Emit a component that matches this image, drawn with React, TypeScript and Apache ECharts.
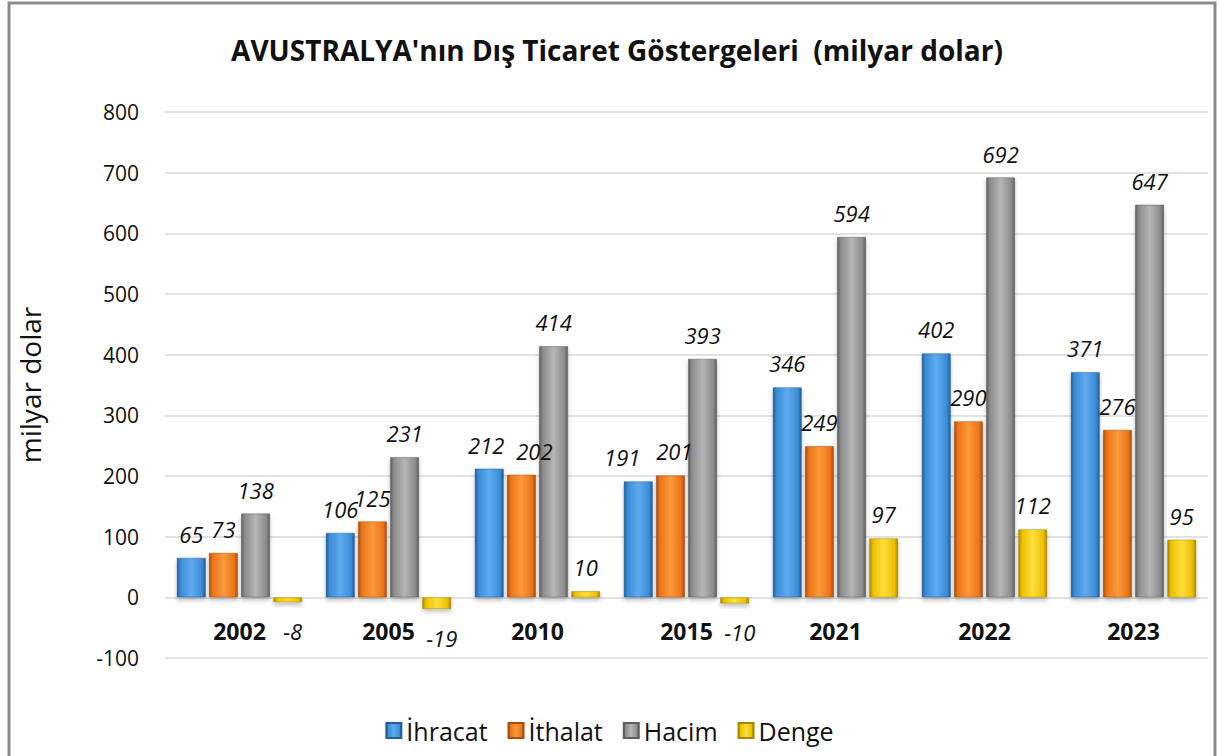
import React, { useEffect, useRef } from "react";
import * as echarts from "echarts";

const years = ["2002", "2005", "2010", "2015", "2021", "2022", "2023"];
const ihracat = [65, 106, 212, 191, 346, 402, 371];
const ithalat = [73, 125, 202, 201, 249, 290, 276];
const hacim = [138, 231, 414, 393, 594, 692, 647];
const denge = [-8, -19, 10, -10, 97, 112, 95];
const yTicks = { min: -100, max: 800, interval: 100 };

const FONT = "'Open Sans', 'Noto Sans', sans-serif";

// small horizontal nudges for crowded value labels (series name -> category index -> px)
const labelNudge: Record<string, Record<number, number>> = {
  "İhracat": { 2: -3, 3: -16 },
  "İthalat": { 2: 13, 3: 4 },
};

function grad(dark: string, mid: string, light: string) {
  return new echarts.graphic.LinearGradient(0, 0, 1, 0, [
    { offset: 0, color: dark },
    { offset: 0.12, color: mid },
    { offset: 0.5, color: light },
    { offset: 0.88, color: mid },
    { offset: 1, color: dark },
  ]);
}

export default function App() {
  const ref = useRef<HTMLDivElement>(null);
  useEffect(() => {
    const chart = echarts.init(ref.current!, undefined, { renderer: "svg" });
    const labelBase = {
      show: true,
      fontFamily: FONT,
      fontSize: 22,
      fontStyle: "italic" as const,
      color: "#111",
      distance: 13,
    };
    const mk = (name: string, data: number[], colors: [string, string, string]) => ({
      name,
      type: "bar" as const,
      data: data.map((v, i) => {
        const dx = (labelNudge[name] && labelNudge[name][i]) || 0;
        return {
          value: v,
          label:
            v < 0
              ? { position: "bottom", distance: 18, offset: [5, 0] }
              : { position: "top", offset: [dx, 0] },
        };
      }),
      itemStyle: {
        color: grad(colors[0], colors[1], colors[2]),
        borderColor: colors[0],
        borderWidth: 0.5,
        shadowColor: "rgba(0,0,0,0.25)",
        shadowBlur: 4,
        shadowOffsetY: 3,
      },
      label: labelBase,
      barGap: "12%",
      barCategoryGap: "16%",
    });
    chart.setOption({
      animation: false,
      backgroundColor: "#fff",
      title: {
        text: "AVUSTRALYA'nın Dış Ticaret Göstergeleri  (milyar dolar)",
        left: 612,
        textAlign: "center",
        top: 31,
        textStyle: { fontFamily: FONT, fontSize: 28, fontWeight: "bold", color: "#111" },
      },
      color: ["#3d8fd9", "#f07a20", "#9a9a9a", "#f2c500"],
      legend: {
        bottom: 8,
        left: "center",
        itemWidth: 15,
        itemHeight: 15,
        itemGap: 20,
        icon: "rect",
        textStyle: { fontFamily: FONT, fontSize: 25, color: "#111" },
        data: ["İhracat", "İthalat", "Hacim", "Denge"],
      },
      grid: { left: 165, right: 11, top: 112, bottom: 98 },
      xAxis: {
        type: "category",
        data: years,
        offset: -61,
        axisLine: { show: false },
        axisTick: { show: false },
        axisLabel: { margin: 22, fontFamily: FONT, fontSize: 23, fontWeight: "bold", color: "#111" },
      },
      yAxis: {
        type: "value",
        min: yTicks.min,
        max: yTicks.max,
        interval: yTicks.interval,
        name: "milyar dolar",
        nameLocation: "middle",
        nameGap: 121,
        nameTextStyle: { fontFamily: FONT, fontSize: 28, color: "#111" },
        axisLine: { show: false },
        axisTick: { show: false },
        axisLabel: { margin: 26, fontFamily: FONT, fontSize: 21, color: "#111" },
        splitLine: { lineStyle: { color: "#d9d9d9", width: 1.5 } },
      },
      graphic: [
        {
          type: "rect",
          shape: { x: 9, y: 3, width: 1206, height: 800 },
          style: { fill: "none", stroke: "#8c8c8c", lineWidth: 3 },
          silent: true,
          z: 100,
        },
      ],
      series: [
        mk("İhracat", ihracat, ["#1f5d9c", "#3b8cd6", "#5eaaf0"]),
        mk("İthalat", ithalat, ["#a84c0c", "#ec7418", "#fb9a3c"]),
        mk("Hacim", hacim, ["#5e5e5e", "#8c8c8c", "#b5b5b5"]),
        mk("Denge", denge, ["#a88600", "#ecc000", "#ffdf3a"]),
      ],
    });
    return () => chart.dispose();
  }, []);
  return (
    <div
      ref={ref}
      style={{ position: "absolute", left: 0, top: 0, width: 1219, height: 756 }}
    />
  );
}
